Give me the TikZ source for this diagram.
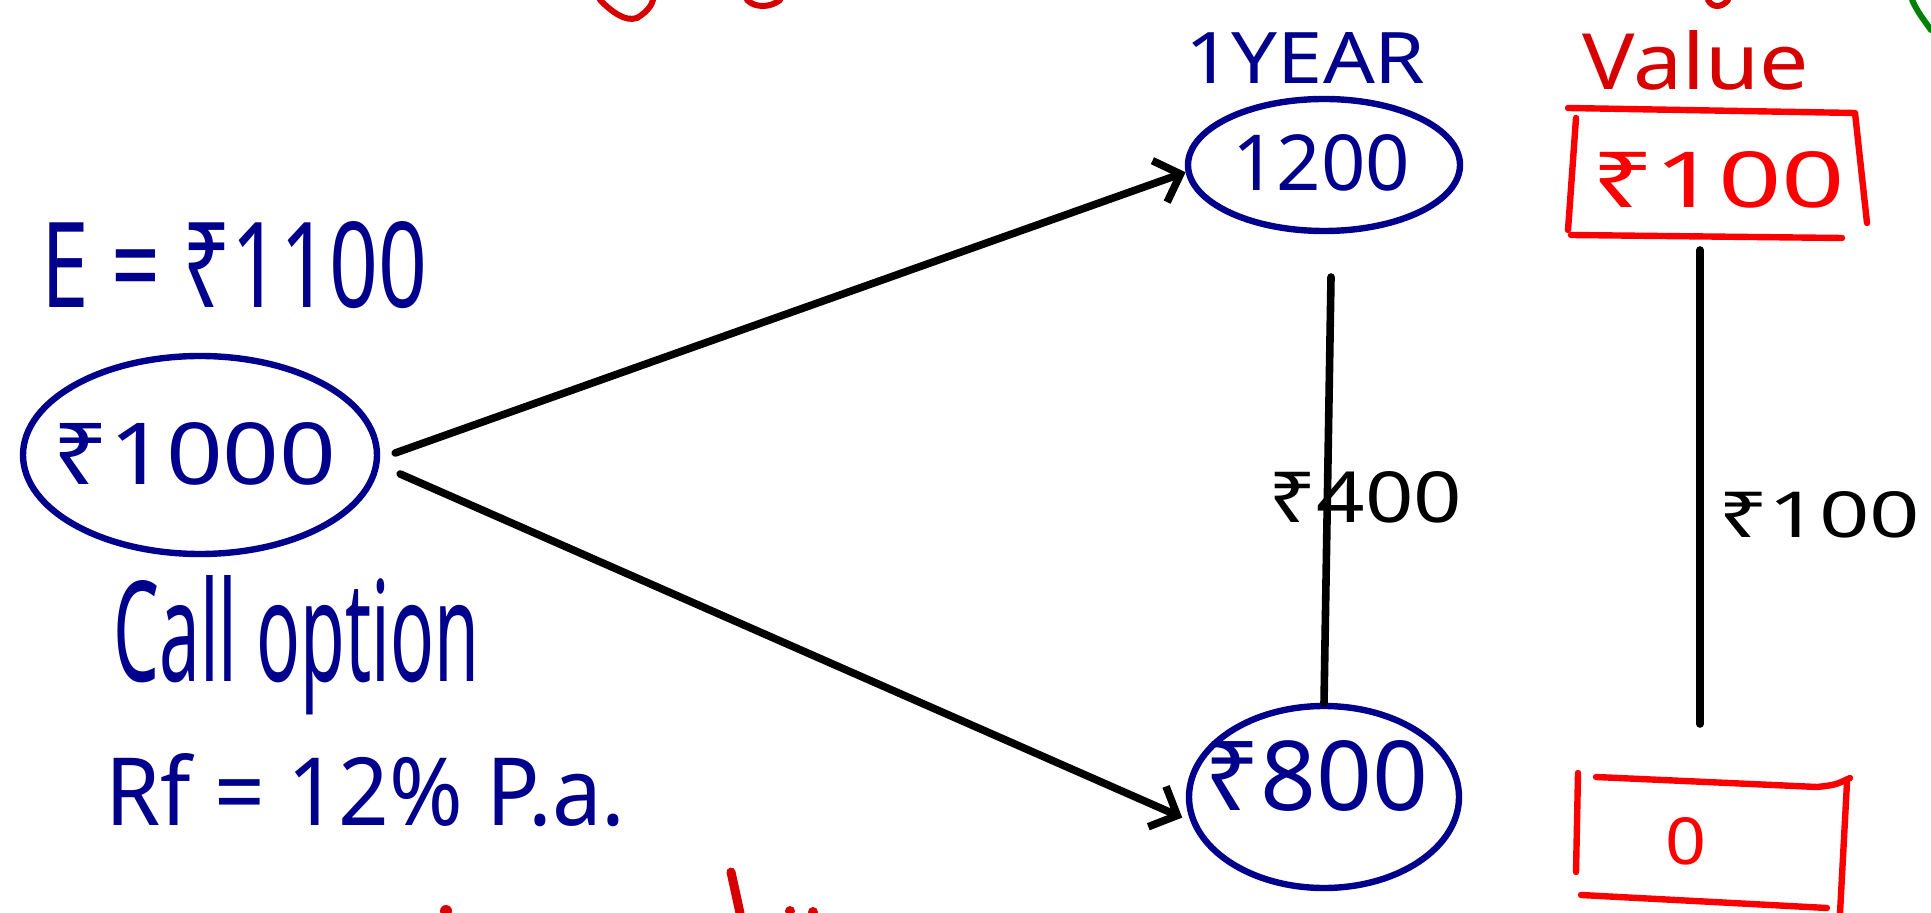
\documentclass[tikz,border=0pt]{standalone}
\usepackage{fontspec}
\setmainfont{Noto Sans}
\usepackage{graphicx}
\usetikzlibrary{arrows.meta,shapes.geometric}
\definecolor{pen}{RGB}{0,0,140}
\definecolor{redbox}{RGB}{250,0,0}
\definecolor{redtxt}{RGB}{215,0,0}
\definecolor{greenpen}{RGB}{0,128,0}
\newcommand{\fitt}[3]{\resizebox{#1pt}{#2pt}{#3}}
\begin{document}
\begin{tikzpicture}[x=0.5pt,y=-0.5pt,
  txt/.style={inner sep=0pt, anchor=base west},
  oval/.style={draw=pen, line width=3.2pt, ellipse, inner sep=0pt},
  conn/.style={line width=3.8pt, line cap=round, draw=black},
  arr/.style={conn, -{Straight Barb[length=11pt,width=22pt,line width=3.8pt]}},
  redline/.style={draw=redbox, line width=3.2pt, line cap=round, line join=round},
  frag/.style={draw=redtxt, line width=3pt, line cap=round}]
\useasboundingbox (0,0) rectangle (1931,913);

% ellipses
\node[oval, minimum width=177pt, minimum height=99pt] (L) at (200,455) {};
\node[oval, minimum width=136pt, minimum height=66pt] (Y) at (1324,165) {};
\node[oval, minimum width=135pt, minimum height=91pt] (R) at (1324,797) {};

% texts
\node[txt, text=pen] (E) at (41,308) {\fitt{193}{43}{E = ₹1100}};
\node[txt, text=pen] (Lt) at (52,485) {\fitt{142}{31}{₹1000}};
\node[txt, text=pen] (call) at (113,681) {\fitt{183}{53}{Call option}};
\node[txt, text=pen] (rf) at (105,825) {\fitt{260}{36}{Rf = 12\% P.a.}};
\node[txt, text=pen] (yr) at (1185,84) {\fitt{120}{25.5}{1YEAR}};
\node[txt, text=pen] (Yt) at (1232,191) {\fitt{89}{28}{1200}};
\node[txt, text=pen] (Rt) at (1204,810) {\fitt{112}{35}{₹800}};
\node[txt] (l400) at (1268,523) {\fitt{97}{25.5}{₹400}};
\node[txt, text=redtxt] (val) at (1582,90) {\fitt{113}{29.5}{Value}};
\node[txt, text=redbox] (v100) at (1591,208) {\fitt{127}{28}{₹100}};
\node[txt] (l100) at (1718,538) {\fitt{101}{23}{₹100}};
\node[txt, text=redbox] (v0) at (1665,864) {\fitt{20.5}{23.5}{0}};

% arrows
\draw[arr] ([shift={(15,-2)}]L.east) -- (Y.183);
\draw[arr] ([shift={(20,19)}]L.east) -- ([shift={(-8,-3)}]R.190);

% vertical lines
\coordinate (m1) at (1331,277);
\draw[conn] (m1) -- (R.north);
\coordinate (r1) at (1700,250);
\coordinate (r2) at (1700,724);
\draw[conn] (r1) -- (r2);

% red boxes
\draw[redline] (1568,108) -- (1855,113) -- (1867,223);
\draw[redline] (1576,118) -- (1568,230);
\draw[redline] (1571,235) -- (1842,238);
\draw[redline] (1578,773) -- (1576,872);
\draw[redline] (1596,777) -- (1817,787) .. controls (1835,785) .. (1850,778);
\draw[redline] (1847,782) -- (1840,913);
\draw[redline] (1581,895) -- (1827,908);

% cut-off fragments
\draw[frag] (600,0) .. controls (612,12) and (625,22) .. (637,18) .. controls (647,12) and (652,5) .. (653,0);
\draw[frag] (747,0) .. controls (755,8) and (770,8) .. (780,0);
\draw[frag] (1708,0) .. controls (1712,8) and (1722,8) .. (1728,0);
\draw[draw=greenpen, line width=3pt, line cap=round] (1912,0) .. controls (1918,12) .. (1931,30);
\draw[frag, line width=4.5pt] (731,872) -- (740,913);
\fill[redtxt] (446,911) circle (3pt);
\fill[redtxt] (790,911) circle (2.5pt);
\fill[redtxt] (813,912) circle (2.5pt);
\end{tikzpicture}
\end{document}
